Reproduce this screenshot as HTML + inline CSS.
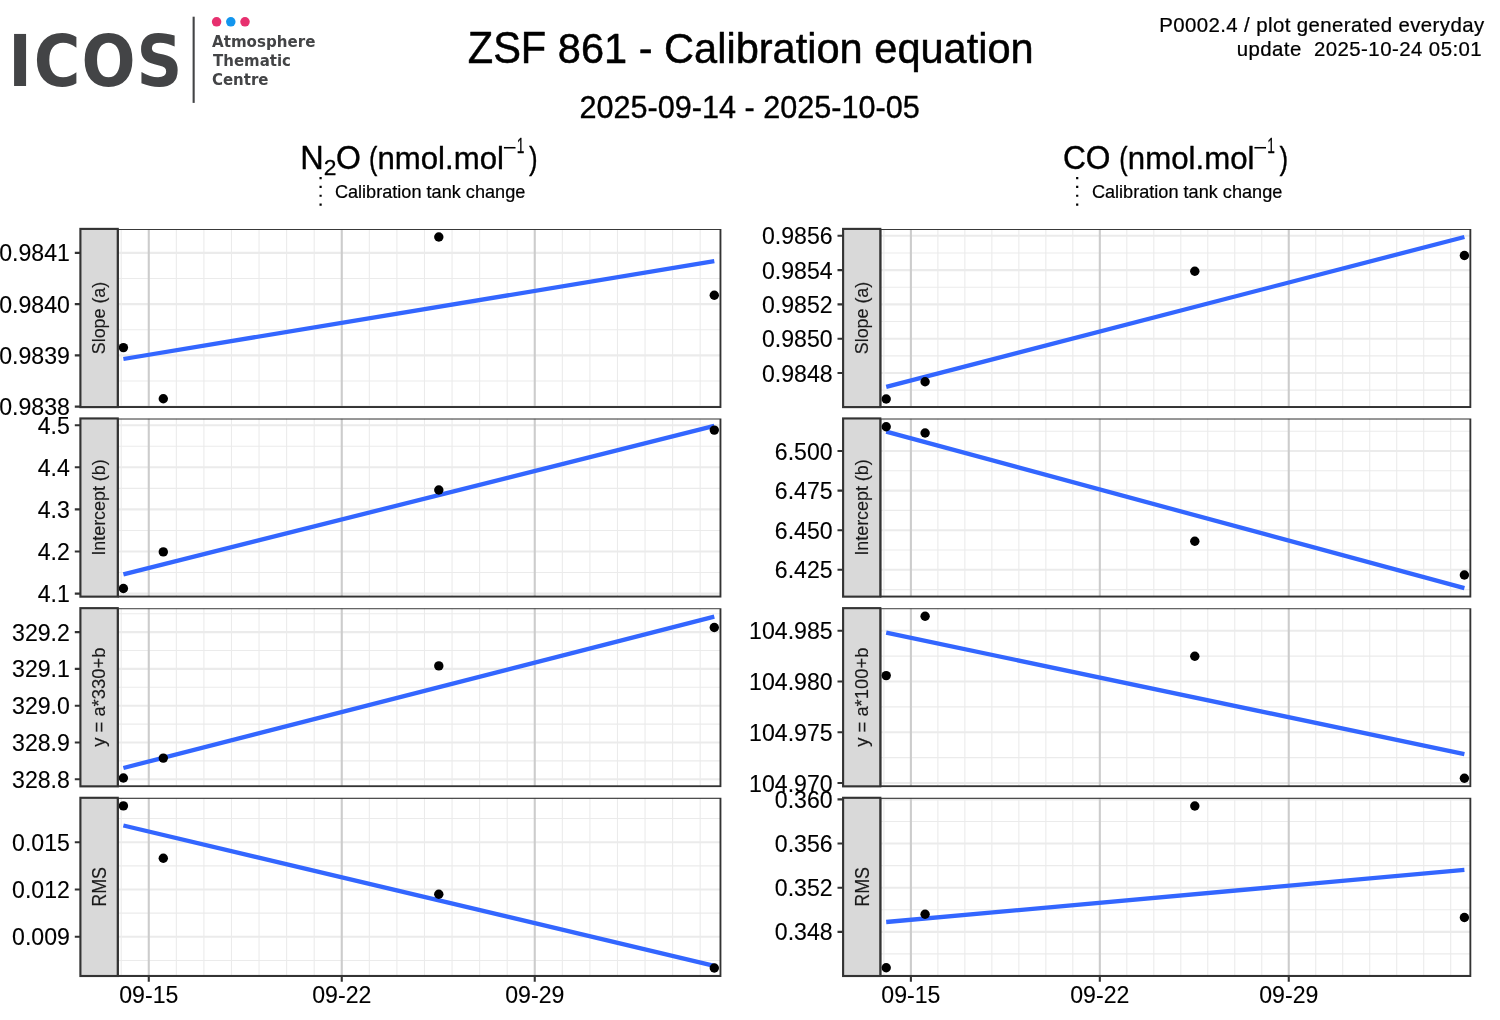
<!DOCTYPE html>
<html lang="en"><head><meta charset="utf-8"><title>ZSF 861 - Calibration equation</title>
<style>html,body{margin:0;padding:0;background:#fff}body{width:1500px;height:1020px;overflow:hidden}svg{display:block}text{font-family:"Liberation Sans", sans-serif;fill:#000;stroke:#000;stroke-width:.012em;stroke-linejoin:round}.ax text,text.ax{stroke-width:.005em}</style></head><body>
<svg width="1500" height="1020" viewBox="0 0 1500 1020">
<rect width="1500" height="1020" fill="#fff"/>
<g id="logo">
<text x="8.2 33.7 81.4 136.6" y="86.1" font-weight="700" font-size="70.7" style="font-family:'DejaVu Sans Condensed','DejaVu Sans','Liberation Sans',sans-serif;font-stretch:condensed;stroke:none;fill:#434446">ICOS</text>
<rect x="192.6" y="16.7" width="2.1" height="86.2" fill="#434446"/>
<circle cx="216.6" cy="21.8" r="4.75" fill="#e7306f"/>
<circle cx="230.8" cy="21.8" r="4.75" fill="#1295ee"/>
<circle cx="245.0" cy="21.8" r="4.75" fill="#e7306f"/>
<text x="212.0" y="46.6" textLength="103.4" lengthAdjust="spacingAndGlyphs" font-weight="700" font-size="15.1" style="font-family:'DejaVu Sans','Liberation Sans',sans-serif;stroke:none;fill:#434446">Atmosphere</text>
<text x="213.1" y="65.8" textLength="77.9" lengthAdjust="spacingAndGlyphs" font-weight="700" font-size="15.1" style="font-family:'DejaVu Sans','Liberation Sans',sans-serif;stroke:none;fill:#434446">Thematic</text>
<text x="211.9" y="85.0" textLength="56.6" lengthAdjust="spacingAndGlyphs" font-weight="700" font-size="15.1" style="font-family:'DejaVu Sans','Liberation Sans',sans-serif;stroke:none;fill:#434446">Centre</text>
</g>
<g id="title">
<text transform="translate(467.75 63.00) scale(0.9381 1)" font-size="44.31">ZSF</text>
<text transform="translate(557.81 63.00) scale(0.9850 1)" font-size="42.20">861 - Calibration equation</text>
</g>
<text transform="translate(579.47 117.70) scale(0.9911 1)" font-size="30.9">2025-09-14 - 2025-10-05</text>
<text x="1159.17" y="31.80" font-size="20.4" letter-spacing="0.413">P0002.4 / plot generated everyday</text>
<text x="1236.67" y="55.80" font-size="20.4" letter-spacing="0.450" xml:space="preserve">update  2025-10-24 05:01</text>
<g id="coltitle-n2o">
<text transform="translate(300.20 168.80) scale(0.9819 1)" font-size="33.1">N</text>
<text transform="translate(323.66 175.00) scale(1.0390 1)" font-size="22">2</text>
<text transform="translate(335.96 168.80) scale(0.9659 1)" font-size="33.1">O</text>
<text transform="translate(368.88 168.80) scale(0.8026 1)" font-size="31.5">(</text>
<text transform="translate(377.47 168.80) scale(0.9900 1)" font-size="31.5">nmol.mol</text>
<text transform="translate(502.80 154.70) scale(1.0872 1)" font-size="22" style="stroke:none">−</text>
<text transform="translate(516.87 152.90) scale(0.6237 1)" font-size="22">1</text>
<text transform="translate(529.04 168.80) scale(0.8181 1)" font-size="31.5">)</text>
</g>
<g id="coltitle-co">
<text transform="translate(1062.91 168.80) scale(0.9581 1)" font-size="33.1">CO</text>
<text transform="translate(1119.18 168.80) scale(0.8026 1)" font-size="31.5">(</text>
<text transform="translate(1127.87 168.80) scale(0.9908 1)" font-size="31.5">nmol.mol</text>
<text transform="translate(1253.30 154.70) scale(1.0872 1)" font-size="22" style="stroke:none">−</text>
<text transform="translate(1267.37 152.90) scale(0.6237 1)" font-size="22">1</text>
<text transform="translate(1279.54 168.80) scale(0.8181 1)" font-size="31.5">)</text>
</g>
<line x1="320.6" y1="177" x2="320.6" y2="208" stroke="#000" stroke-width="2.2" stroke-dasharray="2.2 6.63"/>
<text transform="translate(334.89 197.70) scale(0.9545 1)" font-size="19.0">Calibration tank change</text>
<line x1="1077.2" y1="177" x2="1077.2" y2="208" stroke="#000" stroke-width="2.2" stroke-dasharray="2.2 6.63"/>
<text transform="translate(1091.89 197.70) scale(0.9545 1)" font-size="19.0">Calibration tank change</text>
<g id="panel-0-0">
<clipPath id="c00"><rect x="117.75" y="228.9" width="603.85" height="179.2"/></clipPath>
<g clip-path="url(#c00)">
<path d="M117.75 278.49H720.6M117.75 329.75H720.6M117.75 381.02H720.6M121.20 228.9V407.1M176.34 228.9V407.1M203.91 228.9V407.1M231.48 228.9V407.1M259.05 228.9V407.1M286.62 228.9V407.1M314.19 228.9V407.1M369.33 228.9V407.1M396.90 228.9V407.1M424.47 228.9V407.1M452.04 228.9V407.1M479.61 228.9V407.1M507.18 228.9V407.1M562.32 228.9V407.1M589.89 228.9V407.1M617.46 228.9V407.1M645.03 228.9V407.1M672.60 228.9V407.1M700.17 228.9V407.1" stroke="#ebebeb" stroke-width="1.1" fill="none"/>
<path d="M117.75 252.85H720.6M117.75 304.12H720.6M117.75 355.39H720.6M117.75 406.66H720.6" stroke="#ebebeb" stroke-width="2.1" fill="none"/>
<path d="M148.77 228.9V407.1M341.76 228.9V407.1M534.75 228.9V407.1" stroke="#cccccc" stroke-width="2.1" fill="none"/>
<line x1="123.4" y1="359.0" x2="714.3" y2="261.2" stroke="#3366ff" stroke-width="4.3"/>
<circle cx="123.4" cy="347.6" r="4.7" fill="#000"/>
<circle cx="163.3" cy="398.7" r="4.7" fill="#000"/>
<circle cx="438.8" cy="237.0" r="4.7" fill="#000"/>
<circle cx="714.3" cy="295.2" r="4.7" fill="#000"/>
<rect x="117.75" y="228.9" width="602.85" height="178.2" fill="none" stroke="#333333" stroke-width="2.13"/>
</g>
<rect x="80.4" y="228.9" width="37.35" height="178.2" fill="#d9d9d9" stroke="#333333" stroke-width="2.13"/>
<text transform="translate(105.3 318.0) rotate(-90)" text-anchor="middle" font-size="18.74" textLength="72.4" lengthAdjust="spacingAndGlyphs" style="fill:#1a1a1a;stroke:#1a1a1a;stroke-width:.008em">Slope (a)</text>
<text x="69.9" y="261.0" font-size="23.1" text-anchor="end" class="ax">0.9841</text>
<text x="69.9" y="313.0" font-size="23.1" text-anchor="end" class="ax">0.9840</text>
<text x="69.9" y="364.0" font-size="23.1" text-anchor="end" class="ax">0.9839</text>
<text x="69.9" y="415.0" font-size="23.1" text-anchor="end" class="ax">0.9838</text>
<path d="M74.80000000000001 252.85H80.4M74.80000000000001 304.12H80.4M74.80000000000001 355.39H80.4M74.80000000000001 406.66H80.4" stroke="#333333" stroke-width="2.1" fill="none"/>
</g>
<g id="panel-0-1">
<clipPath id="c01"><rect x="117.75" y="418.45" width="603.85" height="179.2"/></clipPath>
<g clip-path="url(#c01)">
<path d="M117.75 446.25H720.6M117.75 488.35H720.6M117.75 530.45H720.6M117.75 572.55H720.6M121.20 418.45V596.65M176.34 418.45V596.65M203.91 418.45V596.65M231.48 418.45V596.65M259.05 418.45V596.65M286.62 418.45V596.65M314.19 418.45V596.65M369.33 418.45V596.65M396.90 418.45V596.65M424.47 418.45V596.65M452.04 418.45V596.65M479.61 418.45V596.65M507.18 418.45V596.65M562.32 418.45V596.65M589.89 418.45V596.65M617.46 418.45V596.65M645.03 418.45V596.65M672.60 418.45V596.65M700.17 418.45V596.65" stroke="#ebebeb" stroke-width="1.1" fill="none"/>
<path d="M117.75 425.20H720.6M117.75 467.30H720.6M117.75 509.40H720.6M117.75 551.50H720.6M117.75 593.60H720.6" stroke="#ebebeb" stroke-width="2.1" fill="none"/>
<path d="M148.77 418.45V596.65M341.76 418.45V596.65M534.75 418.45V596.65" stroke="#cccccc" stroke-width="2.1" fill="none"/>
<line x1="123.4" y1="574.3" x2="714.3" y2="425.9" stroke="#3366ff" stroke-width="4.3"/>
<circle cx="123.4" cy="588.5" r="4.7" fill="#000"/>
<circle cx="163.3" cy="551.9" r="4.7" fill="#000"/>
<circle cx="438.8" cy="490.0" r="4.7" fill="#000"/>
<circle cx="714.3" cy="430.1" r="4.7" fill="#000"/>
<rect x="117.75" y="418.45" width="602.85" height="178.2" fill="none" stroke="#333333" stroke-width="2.13"/>
</g>
<rect x="80.4" y="418.45" width="37.35" height="178.2" fill="#d9d9d9" stroke="#333333" stroke-width="2.13"/>
<text transform="translate(105.3 507.5) rotate(-90)" text-anchor="middle" font-size="18.74" textLength="96.2" lengthAdjust="spacingAndGlyphs" style="fill:#1a1a1a;stroke:#1a1a1a;stroke-width:.008em">Intercept (b)</text>
<text x="69.9" y="434.0" font-size="23.1" text-anchor="end" class="ax">4.5</text>
<text x="69.9" y="476.0" font-size="23.1" text-anchor="end" class="ax">4.4</text>
<text x="69.9" y="518.0" font-size="23.1" text-anchor="end" class="ax">4.3</text>
<text x="69.9" y="560.0" font-size="23.1" text-anchor="end" class="ax">4.2</text>
<text x="69.9" y="602.0" font-size="23.1" text-anchor="end" class="ax">4.1</text>
<path d="M74.80000000000001 425.20H80.4M74.80000000000001 467.30H80.4M74.80000000000001 509.40H80.4M74.80000000000001 551.50H80.4M74.80000000000001 593.60H80.4" stroke="#333333" stroke-width="2.1" fill="none"/>
</g>
<g id="panel-0-2">
<clipPath id="c02"><rect x="117.75" y="608.15" width="603.85" height="179.2"/></clipPath>
<g clip-path="url(#c02)">
<path d="M117.75 613.70H720.6M117.75 650.50H720.6M117.75 687.30H720.6M117.75 724.10H720.6M117.75 760.90H720.6M121.20 608.15V786.3499999999999M176.34 608.15V786.3499999999999M203.91 608.15V786.3499999999999M231.48 608.15V786.3499999999999M259.05 608.15V786.3499999999999M286.62 608.15V786.3499999999999M314.19 608.15V786.3499999999999M369.33 608.15V786.3499999999999M396.90 608.15V786.3499999999999M424.47 608.15V786.3499999999999M452.04 608.15V786.3499999999999M479.61 608.15V786.3499999999999M507.18 608.15V786.3499999999999M562.32 608.15V786.3499999999999M589.89 608.15V786.3499999999999M617.46 608.15V786.3499999999999M645.03 608.15V786.3499999999999M672.60 608.15V786.3499999999999M700.17 608.15V786.3499999999999" stroke="#ebebeb" stroke-width="1.1" fill="none"/>
<path d="M117.75 632.10H720.6M117.75 668.90H720.6M117.75 705.70H720.6M117.75 742.50H720.6M117.75 779.30H720.6" stroke="#ebebeb" stroke-width="2.1" fill="none"/>
<path d="M148.77 608.15V786.3499999999999M341.76 608.15V786.3499999999999M534.75 608.15V786.3499999999999" stroke="#cccccc" stroke-width="2.1" fill="none"/>
<line x1="123.4" y1="768.0" x2="714.3" y2="616.6" stroke="#3366ff" stroke-width="4.3"/>
<circle cx="123.4" cy="778.0" r="4.7" fill="#000"/>
<circle cx="163.3" cy="758.1" r="4.7" fill="#000"/>
<circle cx="438.8" cy="665.9" r="4.7" fill="#000"/>
<circle cx="714.3" cy="627.5" r="4.7" fill="#000"/>
<rect x="117.75" y="608.15" width="602.85" height="178.2" fill="none" stroke="#333333" stroke-width="2.13"/>
</g>
<rect x="80.4" y="608.15" width="37.35" height="178.2" fill="#d9d9d9" stroke="#333333" stroke-width="2.13"/>
<text transform="translate(105.3 697.2) rotate(-90)" text-anchor="middle" font-size="18.74" textLength="99.1" lengthAdjust="spacingAndGlyphs" style="fill:#1a1a1a;stroke:#1a1a1a;stroke-width:.008em">y = a*330+b</text>
<text x="69.9" y="641.0" font-size="23.1" text-anchor="end" class="ax">329.2</text>
<text x="69.9" y="677.0" font-size="23.1" text-anchor="end" class="ax">329.1</text>
<text x="69.9" y="714.0" font-size="23.1" text-anchor="end" class="ax">329.0</text>
<text x="69.9" y="751.0" font-size="23.1" text-anchor="end" class="ax">328.9</text>
<text x="69.9" y="788.0" font-size="23.1" text-anchor="end" class="ax">328.8</text>
<path d="M74.80000000000001 632.10H80.4M74.80000000000001 668.90H80.4M74.80000000000001 705.70H80.4M74.80000000000001 742.50H80.4M74.80000000000001 779.30H80.4" stroke="#333333" stroke-width="2.1" fill="none"/>
</g>
<g id="panel-0-3">
<clipPath id="c03"><rect x="117.75" y="797.8" width="603.85" height="179.2"/></clipPath>
<g clip-path="url(#c03)">
<path d="M117.75 818.55H720.6M117.75 865.85H720.6M117.75 913.15H720.6M117.75 960.45H720.6M121.20 797.8V976.0M176.34 797.8V976.0M203.91 797.8V976.0M231.48 797.8V976.0M259.05 797.8V976.0M286.62 797.8V976.0M314.19 797.8V976.0M369.33 797.8V976.0M396.90 797.8V976.0M424.47 797.8V976.0M452.04 797.8V976.0M479.61 797.8V976.0M507.18 797.8V976.0M562.32 797.8V976.0M589.89 797.8V976.0M617.46 797.8V976.0M645.03 797.8V976.0M672.60 797.8V976.0M700.17 797.8V976.0" stroke="#ebebeb" stroke-width="1.1" fill="none"/>
<path d="M117.75 842.20H720.6M117.75 889.50H720.6M117.75 936.80H720.6" stroke="#ebebeb" stroke-width="2.1" fill="none"/>
<path d="M148.77 797.8V976.0M341.76 797.8V976.0M534.75 797.8V976.0" stroke="#cccccc" stroke-width="2.1" fill="none"/>
<line x1="123.4" y1="825.5" x2="714.3" y2="965.8" stroke="#3366ff" stroke-width="4.3"/>
<circle cx="123.4" cy="805.9" r="4.7" fill="#000"/>
<circle cx="163.3" cy="858.3" r="4.7" fill="#000"/>
<circle cx="438.8" cy="894.3" r="4.7" fill="#000"/>
<circle cx="714.3" cy="968.0" r="4.7" fill="#000"/>
<rect x="117.75" y="797.8" width="602.85" height="178.2" fill="none" stroke="#333333" stroke-width="2.13"/>
</g>
<rect x="80.4" y="797.8" width="37.35" height="178.2" fill="#d9d9d9" stroke="#333333" stroke-width="2.13"/>
<text transform="translate(105.9 886.9) rotate(-90)" text-anchor="middle" font-size="20.17" textLength="39.7" lengthAdjust="spacingAndGlyphs" style="fill:#1a1a1a;stroke:#1a1a1a;stroke-width:.008em">RMS</text>
<text x="69.9" y="851.0" font-size="23.1" text-anchor="end" class="ax">0.015</text>
<text x="69.9" y="898.0" font-size="23.1" text-anchor="end" class="ax">0.012</text>
<text x="69.9" y="945.0" font-size="23.1" text-anchor="end" class="ax">0.009</text>
<path d="M74.80000000000001 842.20H80.4M74.80000000000001 889.50H80.4M74.80000000000001 936.80H80.4" stroke="#333333" stroke-width="2.1" fill="none"/>
</g>
<text x="148.8" y="1003" font-size="23.1" text-anchor="middle" class="ax">09-15</text>
<text x="341.8" y="1003" font-size="23.1" text-anchor="middle" class="ax">09-22</text>
<text x="534.8" y="1003" font-size="23.1" text-anchor="middle" class="ax">09-29</text>
<path d="M148.77 976.0V981.8M341.76 976.0V981.8M534.75 976.0V981.8" stroke="#333333" stroke-width="2.1" fill="none"/>
<g id="panel-1-0">
<clipPath id="c10"><rect x="880.3" y="228.9" width="591.2" height="179.2"/></clipPath>
<g clip-path="url(#c10)">
<path d="M880.3 252.95H1470.5M880.3 287.25H1470.5M880.3 321.55H1470.5M880.3 355.85H1470.5M880.3 390.15H1470.5M883.90 228.9V407.1M937.88 228.9V407.1M964.87 228.9V407.1M991.86 228.9V407.1M1018.85 228.9V407.1M1045.84 228.9V407.1M1072.83 228.9V407.1M1126.81 228.9V407.1M1153.80 228.9V407.1M1180.79 228.9V407.1M1207.78 228.9V407.1M1234.77 228.9V407.1M1261.76 228.9V407.1M1315.74 228.9V407.1M1342.73 228.9V407.1M1369.72 228.9V407.1M1396.71 228.9V407.1M1423.70 228.9V407.1M1450.69 228.9V407.1" stroke="#ebebeb" stroke-width="1.1" fill="none"/>
<path d="M880.3 235.80H1470.5M880.3 270.10H1470.5M880.3 304.40H1470.5M880.3 338.70H1470.5M880.3 373.00H1470.5" stroke="#ebebeb" stroke-width="2.1" fill="none"/>
<path d="M910.89 228.9V407.1M1099.82 228.9V407.1M1288.75 228.9V407.1" stroke="#cccccc" stroke-width="2.1" fill="none"/>
<line x1="886.2" y1="386.9" x2="1464.4" y2="237.0" stroke="#3366ff" stroke-width="4.3"/>
<circle cx="886.2" cy="399.0" r="4.7" fill="#000"/>
<circle cx="925.1" cy="381.8" r="4.7" fill="#000"/>
<circle cx="1194.8" cy="271.3" r="4.7" fill="#000"/>
<circle cx="1464.4" cy="255.5" r="4.7" fill="#000"/>
<rect x="880.3" y="228.9" width="590.2" height="178.2" fill="none" stroke="#333333" stroke-width="2.13"/>
</g>
<rect x="843.1" y="228.9" width="37.2" height="178.2" fill="#d9d9d9" stroke="#333333" stroke-width="2.13"/>
<text transform="translate(867.9 318.0) rotate(-90)" text-anchor="middle" font-size="18.74" textLength="72.4" lengthAdjust="spacingAndGlyphs" style="fill:#1a1a1a;stroke:#1a1a1a;stroke-width:.008em">Slope (a)</text>
<text x="832.6" y="244.0" font-size="23.1" text-anchor="end" class="ax">0.9856</text>
<text x="832.6" y="279.0" font-size="23.1" text-anchor="end" class="ax">0.9854</text>
<text x="832.6" y="313.0" font-size="23.1" text-anchor="end" class="ax">0.9852</text>
<text x="832.6" y="347.0" font-size="23.1" text-anchor="end" class="ax">0.9850</text>
<text x="832.6" y="382.0" font-size="23.1" text-anchor="end" class="ax">0.9848</text>
<path d="M837.5 235.80H843.1M837.5 270.10H843.1M837.5 304.40H843.1M837.5 338.70H843.1M837.5 373.00H843.1" stroke="#333333" stroke-width="2.1" fill="none"/>
</g>
<g id="panel-1-1">
<clipPath id="c11"><rect x="880.3" y="418.45" width="591.2" height="179.2"/></clipPath>
<g clip-path="url(#c11)">
<path d="M880.3 431.20H1470.5M880.3 470.80H1470.5M880.3 510.40H1470.5M880.3 550.00H1470.5M880.3 589.60H1470.5M883.90 418.45V596.65M937.88 418.45V596.65M964.87 418.45V596.65M991.86 418.45V596.65M1018.85 418.45V596.65M1045.84 418.45V596.65M1072.83 418.45V596.65M1126.81 418.45V596.65M1153.80 418.45V596.65M1180.79 418.45V596.65M1207.78 418.45V596.65M1234.77 418.45V596.65M1261.76 418.45V596.65M1315.74 418.45V596.65M1342.73 418.45V596.65M1369.72 418.45V596.65M1396.71 418.45V596.65M1423.70 418.45V596.65M1450.69 418.45V596.65" stroke="#ebebeb" stroke-width="1.1" fill="none"/>
<path d="M880.3 451.00H1470.5M880.3 490.60H1470.5M880.3 530.20H1470.5M880.3 569.80H1470.5" stroke="#ebebeb" stroke-width="2.1" fill="none"/>
<path d="M910.89 418.45V596.65M1099.82 418.45V596.65M1288.75 418.45V596.65" stroke="#cccccc" stroke-width="2.1" fill="none"/>
<line x1="886.2" y1="431.6" x2="1464.4" y2="588.2" stroke="#3366ff" stroke-width="4.3"/>
<circle cx="886.2" cy="426.7" r="4.7" fill="#000"/>
<circle cx="925.1" cy="433.0" r="4.7" fill="#000"/>
<circle cx="1194.8" cy="541.3" r="4.7" fill="#000"/>
<circle cx="1464.4" cy="575.0" r="4.7" fill="#000"/>
<rect x="880.3" y="418.45" width="590.2" height="178.2" fill="none" stroke="#333333" stroke-width="2.13"/>
</g>
<rect x="843.1" y="418.45" width="37.2" height="178.2" fill="#d9d9d9" stroke="#333333" stroke-width="2.13"/>
<text transform="translate(867.9 507.5) rotate(-90)" text-anchor="middle" font-size="18.74" textLength="96.2" lengthAdjust="spacingAndGlyphs" style="fill:#1a1a1a;stroke:#1a1a1a;stroke-width:.008em">Intercept (b)</text>
<text x="832.6" y="460.0" font-size="23.1" text-anchor="end" class="ax">6.500</text>
<text x="832.6" y="499.0" font-size="23.1" text-anchor="end" class="ax">6.475</text>
<text x="832.6" y="539.0" font-size="23.1" text-anchor="end" class="ax">6.450</text>
<text x="832.6" y="578.0" font-size="23.1" text-anchor="end" class="ax">6.425</text>
<path d="M837.5 451.00H843.1M837.5 490.60H843.1M837.5 530.20H843.1M837.5 569.80H843.1" stroke="#333333" stroke-width="2.1" fill="none"/>
</g>
<g id="panel-1-2">
<clipPath id="c12"><rect x="880.3" y="608.15" width="591.2" height="179.2"/></clipPath>
<g clip-path="url(#c12)">
<path d="M880.3 656.17H1470.5M880.3 706.92H1470.5M880.3 757.67H1470.5M883.90 608.15V786.3499999999999M937.88 608.15V786.3499999999999M964.87 608.15V786.3499999999999M991.86 608.15V786.3499999999999M1018.85 608.15V786.3499999999999M1045.84 608.15V786.3499999999999M1072.83 608.15V786.3499999999999M1126.81 608.15V786.3499999999999M1153.80 608.15V786.3499999999999M1180.79 608.15V786.3499999999999M1207.78 608.15V786.3499999999999M1234.77 608.15V786.3499999999999M1261.76 608.15V786.3499999999999M1315.74 608.15V786.3499999999999M1342.73 608.15V786.3499999999999M1369.72 608.15V786.3499999999999M1396.71 608.15V786.3499999999999M1423.70 608.15V786.3499999999999M1450.69 608.15V786.3499999999999" stroke="#ebebeb" stroke-width="1.1" fill="none"/>
<path d="M880.3 630.80H1470.5M880.3 681.55H1470.5M880.3 732.30H1470.5M880.3 783.05H1470.5" stroke="#ebebeb" stroke-width="2.1" fill="none"/>
<path d="M910.89 608.15V786.3499999999999M1099.82 608.15V786.3499999999999M1288.75 608.15V786.3499999999999" stroke="#cccccc" stroke-width="2.1" fill="none"/>
<line x1="886.2" y1="632.7" x2="1464.4" y2="754.1" stroke="#3366ff" stroke-width="4.3"/>
<circle cx="886.2" cy="675.6" r="4.7" fill="#000"/>
<circle cx="925.1" cy="616.2" r="4.7" fill="#000"/>
<circle cx="1194.8" cy="656.3" r="4.7" fill="#000"/>
<circle cx="1464.4" cy="778.2" r="4.7" fill="#000"/>
<rect x="880.3" y="608.15" width="590.2" height="178.2" fill="none" stroke="#333333" stroke-width="2.13"/>
</g>
<rect x="843.1" y="608.15" width="37.2" height="178.2" fill="#d9d9d9" stroke="#333333" stroke-width="2.13"/>
<text transform="translate(867.9 697.2) rotate(-90)" text-anchor="middle" font-size="18.74" textLength="99.1" lengthAdjust="spacingAndGlyphs" style="fill:#1a1a1a;stroke:#1a1a1a;stroke-width:.008em">y = a*100+b</text>
<text x="832.6" y="639.0" font-size="23.1" text-anchor="end" class="ax">104.985</text>
<text x="832.6" y="690.0" font-size="23.1" text-anchor="end" class="ax">104.980</text>
<text x="832.6" y="741.0" font-size="23.1" text-anchor="end" class="ax">104.975</text>
<text x="832.6" y="792.0" font-size="23.1" text-anchor="end" class="ax">104.970</text>
<path d="M837.5 630.80H843.1M837.5 681.55H843.1M837.5 732.30H843.1M837.5 783.05H843.1" stroke="#333333" stroke-width="2.1" fill="none"/>
</g>
<g id="panel-1-3">
<clipPath id="c13"><rect x="880.3" y="797.8" width="591.2" height="179.2"/></clipPath>
<g clip-path="url(#c13)">
<path d="M880.3 821.48H1470.5M880.3 865.62H1470.5M880.3 909.77H1470.5M880.3 953.92H1470.5M883.90 797.8V976.0M937.88 797.8V976.0M964.87 797.8V976.0M991.86 797.8V976.0M1018.85 797.8V976.0M1045.84 797.8V976.0M1072.83 797.8V976.0M1126.81 797.8V976.0M1153.80 797.8V976.0M1180.79 797.8V976.0M1207.78 797.8V976.0M1234.77 797.8V976.0M1261.76 797.8V976.0M1315.74 797.8V976.0M1342.73 797.8V976.0M1369.72 797.8V976.0M1396.71 797.8V976.0M1423.70 797.8V976.0M1450.69 797.8V976.0" stroke="#ebebeb" stroke-width="1.1" fill="none"/>
<path d="M880.3 799.40H1470.5M880.3 843.55H1470.5M880.3 887.70H1470.5M880.3 931.85H1470.5" stroke="#ebebeb" stroke-width="2.1" fill="none"/>
<path d="M910.89 797.8V976.0M1099.82 797.8V976.0M1288.75 797.8V976.0" stroke="#cccccc" stroke-width="2.1" fill="none"/>
<line x1="886.2" y1="922.0" x2="1464.4" y2="869.9" stroke="#3366ff" stroke-width="4.3"/>
<circle cx="886.2" cy="967.8" r="4.7" fill="#000"/>
<circle cx="925.1" cy="914.3" r="4.7" fill="#000"/>
<circle cx="1194.8" cy="806.0" r="4.7" fill="#000"/>
<circle cx="1464.4" cy="917.5" r="4.7" fill="#000"/>
<rect x="880.3" y="797.8" width="590.2" height="178.2" fill="none" stroke="#333333" stroke-width="2.13"/>
</g>
<rect x="843.1" y="797.8" width="37.2" height="178.2" fill="#d9d9d9" stroke="#333333" stroke-width="2.13"/>
<text transform="translate(868.5 886.9) rotate(-90)" text-anchor="middle" font-size="20.17" textLength="39.7" lengthAdjust="spacingAndGlyphs" style="fill:#1a1a1a;stroke:#1a1a1a;stroke-width:.008em">RMS</text>
<text x="832.6" y="808.0" font-size="23.1" text-anchor="end" class="ax">0.360</text>
<text x="832.6" y="852.0" font-size="23.1" text-anchor="end" class="ax">0.356</text>
<text x="832.6" y="896.0" font-size="23.1" text-anchor="end" class="ax">0.352</text>
<text x="832.6" y="940.0" font-size="23.1" text-anchor="end" class="ax">0.348</text>
<path d="M837.5 799.40H843.1M837.5 843.55H843.1M837.5 887.70H843.1M837.5 931.85H843.1" stroke="#333333" stroke-width="2.1" fill="none"/>
</g>
<text x="910.9" y="1003" font-size="23.1" text-anchor="middle" class="ax">09-15</text>
<text x="1099.8" y="1003" font-size="23.1" text-anchor="middle" class="ax">09-22</text>
<text x="1288.8" y="1003" font-size="23.1" text-anchor="middle" class="ax">09-29</text>
<path d="M910.89 976.0V981.8M1099.82 976.0V981.8M1288.75 976.0V981.8" stroke="#333333" stroke-width="2.1" fill="none"/>
</svg></body></html>
